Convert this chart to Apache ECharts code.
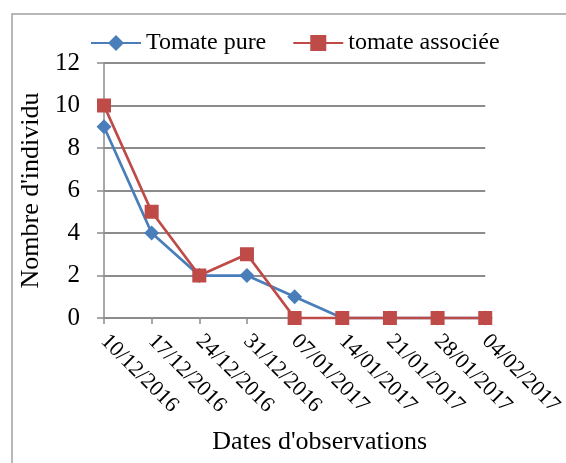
<!DOCTYPE html>
<html>
<head>
<meta charset="utf-8">
<script src="https://cdn.jsdelivr.net/npm/echarts@6/dist/echarts.min.js"></script>
<style>html,body{margin:0;padding:0;background:#fff;}#c{width:566px;height:463px;}</style>
</head>
<body>
<div id="c"></div>
<script>
const categories = ['10/12/2016','17/12/2016','24/12/2016','31/12/2016','07/01/2017','14/01/2017','21/01/2017','28/01/2017','04/02/2017'];
const tomatePure = [9, 4, 2, 2, 1, 0, 0, 0, 0];
const tomateAssociee = [10, 5, 2, 3, 0, 0, 0, 0, 0];
const yTicks = {min: 0, max: 12, interval: 2};

const font = "'Liberation Serif', 'Times New Roman', serif";
const gray = '#8c8c8c';
const chart = echarts.init(document.getElementById('c'), null, {renderer: 'canvas'});
chart.setOption({
  backgroundColor: '#fff',
  animation: false,
  graphic: [{
    type: 'rect', left: 9.5, top: 11.5, shape: {x: 0, y: 0, width: 600, height: 500},
    style: {fill: 'none', stroke: '#a0a0a0', lineWidth: 1.5}, silent: true
  }],
  legend: {
    left: 90, top: 31, padding: 0,
    itemWidth: 50, itemHeight: 20, itemGap: 26,
    textStyle: {fontFamily: font, fontSize: 24, color: '#000'},
    data: ['Tomate pure', 'tomate associée']
  },
  grid: {left: 104, top: 63, right: 78, bottom: 145, containLabel: false},
  xAxis: {
    type: 'category', data: categories, boundaryGap: false,
    axisLine: {lineStyle: {color: gray, width: 1.5}},
    axisTick: {show: true, length: 6, lineStyle: {color: gray, width: 1.5}},
    axisLabel: {rotate: -45, margin: 20, fontFamily: font, fontSize: 22, color: '#000', interval: 0},
    name: "Dates d'observations", nameLocation: 'middle', nameGap: 111,
    nameTextStyle: {fontFamily: font, fontSize: 26, color: '#000', padding: [0, 0, 0, 50]}
  },
  yAxis: {
    type: 'value', min: yTicks.min, max: yTicks.max, interval: yTicks.interval,
    axisLine: {show: true, lineStyle: {color: gray, width: 1.5}},
    axisTick: {show: true, length: 7, lineStyle: {color: gray, width: 1.5}},
    splitLine: {show: true, lineStyle: {color: gray, width: 2}},
    axisLabel: {margin: 24, fontFamily: font, fontSize: 25, color: '#000'},
    name: "Nombre d'individu", nameLocation: 'middle', nameGap: 52,
    nameTextStyle: {fontFamily: font, fontSize: 26, color: '#000'}
  },
  series: [
    {
      name: 'Tomate pure', type: 'line', data: tomatePure,
      symbol: 'diamond', symbolSize: 15,
      lineStyle: {color: '#4a7ebb', width: 2.75},
      itemStyle: {color: '#4a7ebb', borderWidth: 0}
    },
    {
      name: 'tomate associée', type: 'line', data: tomateAssociee,
      symbol: 'rect', symbolSize: 14,
      lineStyle: {color: '#be4b48', width: 2.75},
      itemStyle: {color: '#be4b48', borderWidth: 0}
    }
  ]
});
</script>
</body>
</html>
